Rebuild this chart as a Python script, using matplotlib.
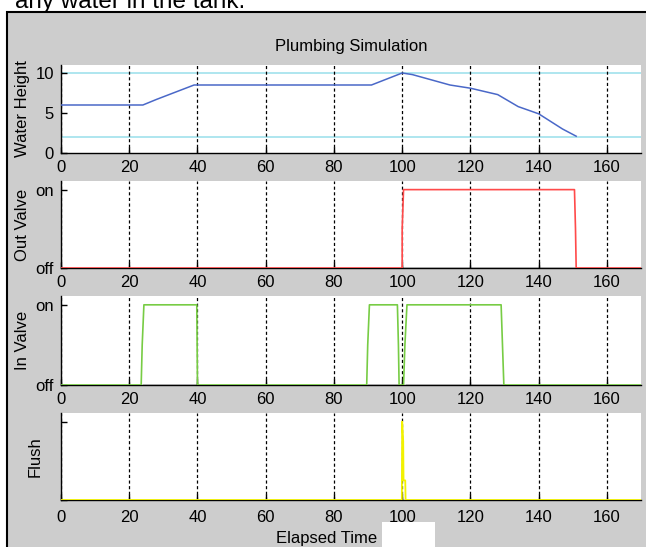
import matplotlib
matplotlib.use("Agg")
import matplotlib.pyplot as plt
from matplotlib.patches import Rectangle

# data
water_t = [0, 24, 28, 39, 91, 100, 103, 114, 120, 128, 134, 140, 147, 151]
water_h = [6, 6, 6.7, 8.5, 8.5, 10, 9.8, 8.5, 8.1, 7.3, 5.8, 4.9, 3, 2.1]
limits = [10, 2]

out_t = [0, 100, 100, 100.4, 150.5, 150.8, 151, 170]
out_v = [0, 0, 0.5, 1, 1, 0.5, 0, 0]

in_t = [0, 23.5, 23.8, 24.3, 39.8, 40, 89.6, 89.9, 90.4, 98.6, 98.9, 99.1,
        100.4, 100.8, 101.4, 129, 129.4, 129.8, 170]
in_v = [0, 0, 0.5, 1, 1, 0, 0, 0.5, 1, 1, 0.5, 0,
        0, 0.5, 1, 1, 0.5, 0, 0]

flush_t = [0, 99.9, 100.0, 100.3, 100.4, 100.9, 101.0, 170]
flush_v = [0, 0, 1, 0.75, 0.25, 0.25, 0, 0]

xticks = [0, 20, 40, 60, 80, 100, 120, 140, 160]
gray = "#cdcdcd"
font = ["Liberation Sans", "DejaVu Sans"]

W, H = 646, 547
fig = plt.figure(figsize=(W / 100, H / 100), dpi=100, facecolor="white")

# grey matlab window with a black border on left/top
fig.patches.append(Rectangle((7 / W, -0.1), 1, 1.1 - 12 / H, transform=fig.transFigure,
                             facecolor=gray, edgecolor="black", linewidth=1.5,
                             zorder=-1))
fig.text(15 / W, 1 - 8 / H, "any water in the tank.", fontsize=17.5,
         family=font, va="baseline", ha="left")


def make_ax(top, bottom):
    ax = fig.add_axes([61 / W, 1 - bottom / H, (641 - 61) / W, (bottom - top) / H])
    ax.set_facecolor("white")
    ax.set_xlim(0, 170)
    ax.set_xticks(xticks)
    ax.set_xticklabels([str(v) for v in xticks], family=font, fontsize=12)
    for s in ["top", "right"]:
        ax.spines[s].set_visible(False)
    for s in ["left", "bottom"]:
        ax.spines[s].set_linewidth(1)
    ax.tick_params(direction="in", length=4, pad=5, width=1)
    ax.xaxis.grid(True, color="black", linestyle=(0, (2.5, 2)), linewidth=0.9)
    ax.set_axisbelow(False)
    return ax


ax1 = make_ax(65, 153)
ax1.set_ylim(0, 11)
ax1.set_yticks([0, 5, 10])
ax1.set_yticklabels(["0", "5", "10"], family=font, fontsize=12)
for v in limits:
    ax1.axhline(v, color="#a8e4ee", linewidth=1.3, zorder=1)
ax1.plot(water_t, water_h, color="#4a68c8", linewidth=1.1, zorder=3)
ax1.set_ylabel("Water Height", family=font, fontsize=12, labelpad=4)
ax1.set_title("Plumbing Simulation", family=font, fontsize=12, pad=10)

ax2 = make_ax(181, 268)
ax2.set_ylim(0, 1.11)
ax2.set_yticks([0, 1])
ax2.set_yticklabels(["off", "on"], family=font, fontsize=12)
ax2.plot([100, 151], [0, 0], color="black", linewidth=1, zorder=2)
ax2.plot(out_t, out_v, color="#ff4a4a", linewidth=1.2, zorder=3)
ax2.set_ylabel("Out Valve", family=font, fontsize=12, labelpad=4)

ax3 = make_ax(296, 385)
ax3.set_ylim(0, 1.11)
ax3.set_yticks([0, 1])
ax3.set_yticklabels(["off", "on"], family=font, fontsize=12)
for a, b in [(24, 40), (90, 99), (101, 130)]:
    ax3.plot([a, b], [0, 0], color="black", linewidth=1, zorder=2)
ax3.plot(in_t, in_v, color="#77cc44", linewidth=1.2, zorder=3)
ax3.set_ylabel("In Valve", family=font, fontsize=12, labelpad=4)

ax4 = make_ax(413, 500)
ax4.set_ylim(0, 1.11)
ax4.set_yticks([0, 1])
ax4.set_yticklabels(["", ""])
ax4.plot(flush_t, flush_v, color="#f2f200", linewidth=1.3, zorder=3)
ax4.set_ylabel("Flush", family=font, fontsize=12, labelpad=8)
ax4.tick_params(axis="x", pad=7)

fig.text(377 / W, 1 - 538 / H, "Elapsed Time", family=font, fontsize=12,
         ha="right", va="center")
fig.patches.append(Rectangle((382 / W, 0), 53 / W, 25 / H, transform=fig.transFigure,
                             facecolor="white", edgecolor="none", zorder=5))

fig.savefig("out.png", dpi=100, facecolor=fig.get_facecolor())
